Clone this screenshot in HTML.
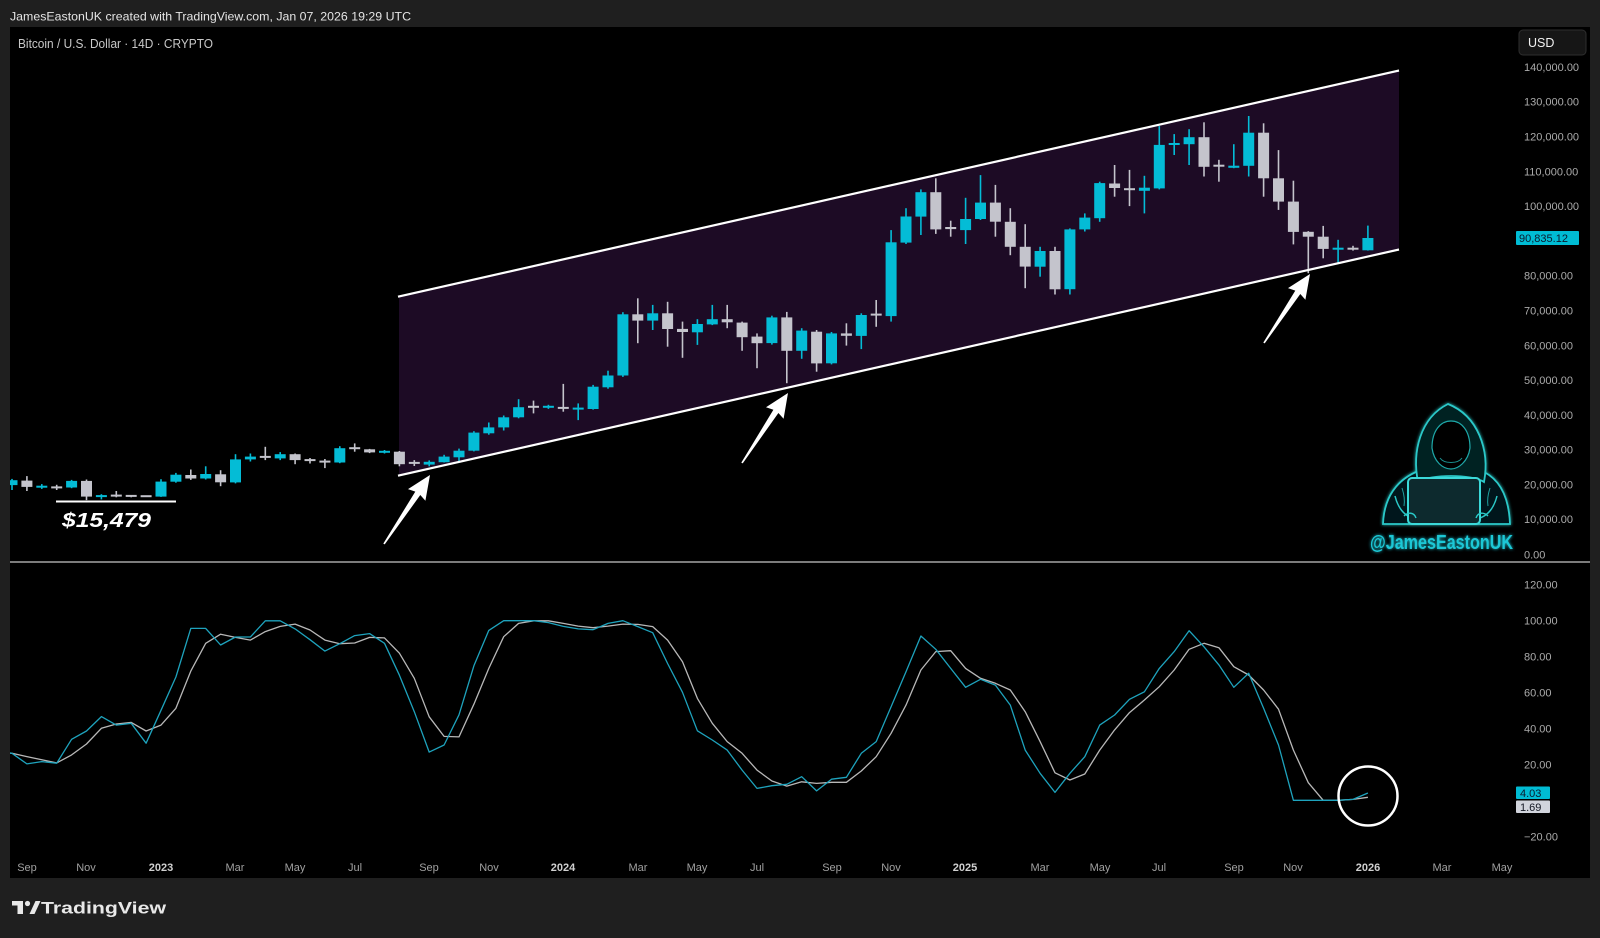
<!DOCTYPE html>
<html>
<head>
<meta charset="utf-8">
<style>
html,body{margin:0;padding:0;background:#1f1f1f;}
svg{display:block;}
text{font-family:"Liberation Sans",sans-serif;}
</style>
</head>
<body>
<svg width="1600" height="938" viewBox="0 0 1600 938">
<defs>
<clipPath id="pc"><rect x="10" y="27" width="1580" height="534"/></clipPath>
<clipPath id="oc"><rect x="10" y="563" width="1500" height="315"/></clipPath>
<filter id="gl" x="-20%" y="-20%" width="140%" height="140%"><feGaussianBlur stdDeviation="1.6" result="b"/><feMerge><feMergeNode in="b"/><feMergeNode in="SourceGraphic"/></feMerge></filter>
</defs>
<rect x="0" y="0" width="1600" height="938" fill="#1f1f1f"/>
<rect x="10" y="27" width="1580" height="851" fill="#000"/>

<text x="10" y="20.5" font-size="12" fill="#e4e4e4" textLength="401" lengthAdjust="spacingAndGlyphs">JamesEastonUK created with TradingView.com, Jan 07, 2026 19:29 UTC</text>
<text x="18" y="48" font-size="12.5" fill="#c8c8c8" textLength="195" lengthAdjust="spacingAndGlyphs">Bitcoin / U.S. Dollar · 14D · CRYPTO</text>

<!-- channel fill -->
<polygon points="399,296.5 1399,70.5 1399,249.5 399,475.5" fill="#1d0b25"/>

<g id="candles" clip-path="url(#pc)"></g>

<!-- channel lines -->
<line x1="398" y1="296.7" x2="1399" y2="70.5" stroke="#fff" stroke-width="2.2"/>
<line x1="398" y1="475.7" x2="1399" y2="249.5" stroke="#fff" stroke-width="2.2"/>

<g id="arrows" fill="#fff"></g>

<!-- $15,479 -->
<line x1="56" y1="501.5" x2="176" y2="501.5" stroke="#fff" stroke-width="2"/>
<text x="62" y="527" font-size="20" font-weight="bold" font-style="italic" fill="#fff" textLength="89" lengthAdjust="spacingAndGlyphs">$15,479</text>

<!-- hacker logo -->
<g filter="url(#gl)">
<path d="M1383,524 C1384,500 1394,482 1416,472 C1430,466 1470,466 1484,472 C1502,481 1509,500 1510,524 Z" fill="#04171a" stroke="#2cc9c9" stroke-width="1.8"/>
<path d="M1418,482 C1412,452 1420,418 1448,404 C1478,416 1490,450 1484,482 C1472,474 1430,474 1418,482 Z" fill="#062124" stroke="#2cc9c9" stroke-width="1.8"/>
<path d="M1432,448 C1432,430 1441,421 1451,421 C1461,421 1470,430 1470,448 C1468,462 1458,469 1451,469 C1443,469 1434,462 1432,448 Z" fill="#000" stroke="#1fa8a8" stroke-width="1.2"/>
<path d="M1440,458 C1444,464 1458,464 1462,458" fill="none" stroke="#1a8f8f" stroke-width="1"/>
<path d="M1395,496 C1398,508 1404,515 1412,518" fill="none" stroke="#2cc9c9" stroke-width="1.5"/>
<path d="M1497,496 C1494,508 1488,515 1480,518" fill="none" stroke="#2cc9c9" stroke-width="1.5"/>
<path d="M1402,488 C1404,494 1405,500 1404,506" fill="none" stroke="#1e9f9f" stroke-width="1"/>
<path d="M1490,488 C1488,494 1487,500 1488,506" fill="none" stroke="#1e9f9f" stroke-width="1"/>
<rect x="1408" y="478" width="72" height="46" rx="4" fill="#0b2a2e" stroke="#3ad9d9" stroke-width="2"/>
<path d="M1404,516 C1408,512 1414,512 1416,518" fill="none" stroke="#2cc9c9" stroke-width="1.4"/>
<path d="M1488,516 C1484,512 1478,512 1476,518" fill="none" stroke="#2cc9c9" stroke-width="1.4"/>
<text x="1370" y="549" font-size="20" font-weight="bold" fill="#1ec8d6" textLength="143" lengthAdjust="spacingAndGlyphs">@JamesEastonUK</text>
</g>

<!-- separator -->
<line x1="10" y1="562" x2="1590" y2="562" stroke="#7c7c7c" stroke-width="2"/>

<!-- oscillator -->
<g id="osc" clip-path="url(#oc)" fill="none" stroke-width="1.3" stroke-linejoin="round"></g>
<circle cx="1368" cy="796" r="29.5" fill="none" stroke="#fff" stroke-width="2.5"/>

<!-- price axis -->
<rect x="1519" y="30" width="67" height="25" rx="4" fill="#161616" stroke="#2e2e2e" stroke-width="1"/>
<text x="1528" y="47" font-size="12.5" fill="#f0f0f0">USD</text>
<g font-size="11" fill="#ababab">
<text x="1524" y="70.9">140,000.00</text>
<text x="1524" y="105.7">130,000.00</text>
<text x="1524" y="140.5">120,000.00</text>
<text x="1524" y="175.3">110,000.00</text>
<text x="1524" y="210.1">100,000.00</text>
<text x="1524" y="279.7">80,000.00</text>
<text x="1524" y="314.5">70,000.00</text>
<text x="1524" y="349.3">60,000.00</text>
<text x="1524" y="384.1">50,000.00</text>
<text x="1524" y="418.8">40,000.00</text>
<text x="1524" y="453.6">30,000.00</text>
<text x="1524" y="488.4">20,000.00</text>
<text x="1524" y="523.2">10,000.00</text>
<text x="1524" y="558.5">0.00</text>
<text x="1524" y="588.3">120.00</text>
<text x="1524" y="624.3">100.00</text>
<text x="1524" y="660.3">80.00</text>
<text x="1524" y="696.3">60.00</text>
<text x="1524" y="732.3">40.00</text>
<text x="1524" y="768.3">20.00</text>
<text x="1524" y="840.3">−20.00</text>
</g>
<rect x="1516" y="231" width="63" height="14" rx="1" fill="#00bcd4"/>
<text x="1519" y="242" font-size="11" fill="#0b1a2e">90,835.12</text>
<rect x="1516" y="786.5" width="34" height="12.5" rx="1" fill="#00bcd4"/>
<text x="1520" y="796.8" font-size="11" fill="#0b1a2e">4.03</text>
<rect x="1516" y="800.5" width="34" height="12.5" rx="1" fill="#d1d4dc"/>
<text x="1520" y="810.8" font-size="11" fill="#131722">1.69</text>

<!-- time axis -->
<g font-size="11" fill="#a0a0a0" text-anchor="middle">
<text x="27" y="871">Sep</text>
<text x="86" y="871">Nov</text>
<text x="161" y="871" font-weight="bold" fill="#d0d0d0">2023</text>
<text x="235" y="871">Mar</text>
<text x="295" y="871">May</text>
<text x="355" y="871">Jul</text>
<text x="429" y="871">Sep</text>
<text x="489" y="871">Nov</text>
<text x="563" y="871" font-weight="bold" fill="#d0d0d0">2024</text>
<text x="638" y="871">Mar</text>
<text x="697" y="871">May</text>
<text x="757" y="871">Jul</text>
<text x="832" y="871">Sep</text>
<text x="891" y="871">Nov</text>
<text x="965" y="871" font-weight="bold" fill="#d0d0d0">2025</text>
<text x="1040" y="871">Mar</text>
<text x="1100" y="871">May</text>
<text x="1159" y="871">Jul</text>
<text x="1234" y="871">Sep</text>
<text x="1293" y="871">Nov</text>
<text x="1368" y="871" font-weight="bold" fill="#d0d0d0">2026</text>
<text x="1442" y="871">Mar</text>
<text x="1502" y="871">May</text>
</g>

<!-- TradingView logo -->
<g fill="#e8e8e8">
<rect x="12" y="901" width="11" height="4.5"/>
<rect x="17.5" y="901" width="5.5" height="13"/>
<circle cx="27.5" cy="903.5" r="2.6"/>
<polygon points="29.5,914 35.5,901 40.5,901 34.5,914"/>
</g>
<text x="41" y="913.5" font-size="17" font-weight="bold" fill="#e8e8e8" textLength="125" lengthAdjust="spacingAndGlyphs">TradingView</text>
</svg>

<script>
(function(){
var X=function(i){return 161+14.9*i;};
var P=function(p){return 554-3.479*p;};
var O=function(v){return 800.3-1.8*v;};
var d=[
[19.8,21.6,18.4,21.2],[21.1,22.4,18.1,19.3],[19.2,20.1,18.7,19.5],[19.3,19.9,18.4,19.0],[19.1,21.3,18.9,21.0],
[21.0,21.4,15.5,16.5],[16.4,17.2,15.7,16.9],[17.0,18.1,16.3,16.6],[16.8,16.9,16.3,16.6],[16.7,16.8,16.4,16.55],
[16.5,21.5,16.4,20.8],[20.8,23.3,20.5,22.8],[22.7,24.3,21.3,21.7],[21.7,25.2,21.4,23.0],[22.9,24.1,19.5,20.6],
[20.6,28.7,20.3,27.2],[27.2,28.9,26.6,28.0],[28.0,30.8,27.0,27.8],[27.5,29.3,27.0,28.7],[28.7,28.9,25.8,27.0],
[27.1,27.6,26.0,26.9],[26.7,27.3,24.7,26.4],[26.3,31.0,26.1,30.4],[30.5,31.8,29.4,30.3],[30.1,30.2,29.0,29.2],
[29.3,29.9,28.9,29.45],[29.4,29.6,25.2,25.8],[26.3,27.0,25.3,26.1],[25.7,26.9,25.2,26.5],[26.4,28.5,26.3,28.0],
[27.8,30.3,26.7,29.7],[29.7,35.3,29.5,34.9],[34.7,37.8,34.3,36.4],[36.4,39.8,35.5,39.3],[39.3,44.5,39.0,42.2],
[42.4,44.1,40.4,42.2],[42.2,42.9,41.7,42.4],[42.1,48.9,40.9,41.9],[41.7,43.3,38.5,41.9],[41.7,48.6,41.5,48.1],
[47.9,52.7,47.5,51.3],[51.3,69.5,50.9,68.9],[68.9,73.5,60.6,67.1],[67.1,71.6,64.4,69.2],[69.2,72.5,59.6,64.7],
[64.7,66.8,56.4,63.8],[63.7,67.5,60.1,66.1],[66.0,71.6,65.8,67.5],[67.5,71.6,64.9,66.6],[66.5,66.8,58.4,62.3],
[62.5,63.4,53.4,60.6],[60.6,68.5,60.2,68.0],[68.0,69.6,49.1,58.4],[58.4,64.9,56.1,64.2],[63.9,64.4,52.4,54.8],
[54.8,63.8,54.5,63.4],[63.4,66.3,59.9,62.7],[62.7,69.2,58.9,68.7],[69.0,73.0,65.3,68.6],[68.4,93.1,66.8,89.6],
[89.5,99.4,89.1,97.0],[97.0,104.8,91.7,104.0],[104.0,108.0,92.0,93.3],[94.0,95.8,91.2,93.4],[93.1,102.4,89.1,96.3],
[96.3,108.9,96.0,101.0],[101.0,106.1,91.2,95.5],[95.5,99.4,85.9,88.3],[88.3,94.8,76.4,82.6],[82.6,88.3,79.7,87.1],
[87.1,88.3,74.6,76.1],[76.1,93.6,74.6,93.3],[93.3,97.9,92.7,96.7],[96.5,107.0,95.5,106.6],[106.5,111.8,102.7,105.2],
[105.0,110.4,100.0,104.7],[104.4,108.7,97.9,105.3],[105.1,123.0,104.8,117.6],[117.7,120.7,114.7,118.0],[117.8,122.1,111.8,119.8],
[119.8,124.1,108.5,111.3],[111.7,113.3,107.0,111.5],[111.0,117.8,110.9,111.6],[111.6,125.9,108.5,121.1],[121.1,123.8,102.7,108.0],
[108.0,116.1,98.9,101.3],[101.3,107.3,89.0,92.6],[92.6,92.8,80.7,91.2],[91.2,94.3,85.0,87.7],[87.6,90.3,83.8,87.9],
[88.0,88.6,87.2,87.5],[87.3,94.4,87.2,90.835]
];
var s='';
for(var k=0;k<d.length;k++){
  var i=k-10,c=d[k],x=X(i),up=c[3]>=c[0],col=up?'#04bcd6':'#c4c4cc';
  var yo=P(c[0]),yc=P(c[3]),yh=P(c[1]),yl=P(c[2]);
  var top=Math.min(yo,yc),h=Math.max(Math.abs(yo-yc),2);
  if(Math.abs(yo-yc)<2){top=(yo+yc)/2-1;}
  s+='<line x1="'+x.toFixed(1)+'" y1="'+yh.toFixed(1)+'" x2="'+x.toFixed(1)+'" y2="'+yl.toFixed(1)+'" stroke="'+col+'" stroke-width="1.6"/>';
  s+='<rect x="'+(x-5.5).toFixed(1)+'" y="'+top.toFixed(1)+'" width="11" height="'+h.toFixed(1)+'" fill="'+col+'"/>';
}
document.getElementById('candles').innerHTML=s;

var K=[27,26.1,20.2,21.5,20.6,33.9,38.5,46.5,41.8,42.8,31.7,50,68.5,95.5,95.5,86.3,90.7,90.7,99.7,99.7,95.2,89.2,82.9,87.0,91.5,92.6,87.2,69.5,49.2,26.8,30.7,47.5,74.7,94.4,99.8,99.8,99.8,98.7,96.6,95.2,94.8,98.3,99.8,96.5,93.1,76.0,60.0,38.6,33.5,27.9,16.8,6.6,8.1,8.9,13.1,5.2,11.7,12.8,26.1,32.6,52.0,71.4,91.3,83.9,73.3,62.8,67.2,64.0,52.9,27.9,15.0,4.4,15.0,24.2,41.8,47.4,56.1,60.3,73.3,82.6,94.2,85.3,75.2,62.8,70.6,51.1,30.7,0,0,0,0,0.5,4.03];
var D=[27,26.1,24.3,22.5,20.8,25.2,31.3,40.0,42.4,43.3,38.5,41.8,51.1,71.8,87.2,92.3,90.5,89.0,93.7,96.6,97.9,94.6,89.0,87.0,87.4,90.5,90.2,81.7,67.8,46.4,35.5,35.2,53.4,73.3,90.9,98.3,99.7,99.7,98.3,96.8,95.9,96.8,97.9,97.7,96.5,89.0,77.0,56.6,42.8,32.6,26.1,16.8,10.7,7.9,10.3,9.4,10.0,10.0,16.3,24.2,37.2,52.9,72.4,82.6,83.1,73.3,67.8,65.0,61.3,49.2,32.6,15.3,11.3,14.6,27.9,39.1,48.7,55.7,63.1,72.4,83.9,87.2,84.8,74.2,69.6,61.3,50.6,27.9,9.8,0,0,0.5,1.69];
function pl(a){var p=[];for(var j=0;j<a.length;j++){p.push(X(j-11).toFixed(1)+','+O(a[j]).toFixed(1));}return p.join(' ');}
document.getElementById('osc').innerHTML='<polyline points="'+pl(D)+'" stroke="#b8b8b8"/><polyline points="'+pl(K)+'" stroke="#1ea3bd"/>';

function arrow(tx,ty,hx,hy){
  var dx=hx-tx,dy=hy-ty,L=Math.sqrt(dx*dx+dy*dy),ux=dx/L,uy=dy/L,nx=-uy,ny=ux;
  var hl=22,hw=10.5,sw=3,tw=0.8;
  var bx=hx-ux*hl,by=hy-uy*hl;
  var cx=bx-ux*2,cy=by-uy*2;
  var pts=[[tx+nx*tw,ty+ny*tw],[bx+nx*sw,by+ny*sw],[cx+nx*hw,cy+ny*hw],[hx,hy],[cx-nx*hw,cy-ny*hw],[bx-nx*sw,by-ny*sw],[tx-nx*tw,ty-ny*tw]];
  return '<polygon points="'+pts.map(function(q){return q[0].toFixed(1)+','+q[1].toFixed(1);}).join(' ')+'"/>';
}
document.getElementById('arrows').innerHTML=arrow(384,544,430,475)+arrow(742,463,788,393)+arrow(1264,343,1310,274);
})();
</script>
</body>
</html>
